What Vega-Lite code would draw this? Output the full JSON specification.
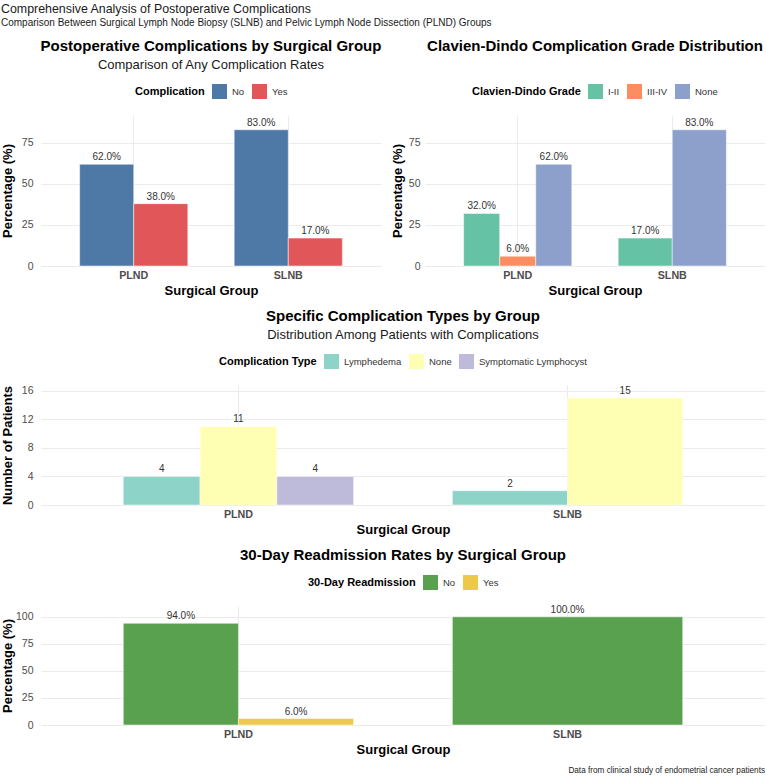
{
  "$schema": "https://vega.github.io/schema/vega-lite/v6.json",
  "background": "white",
  "padding": {"left": 0, "top": 2, "right": 0, "bottom": 0},
  "title": {
    "text": "Comprehensive Analysis of Postoperative Complications",
    "subtitle": "Comparison Between Surgical Lymph Node Biopsy (SLNB) and Pelvic Lymph Node Dissection (PLND) Groups",
    "anchor": "start",
    "frame": "bounds",
    "fontSize": 12.4,
    "fontWeight": "normal",
    "color": "#1a1a1a",
    "subtitleFontSize": 10,
    "subtitleColor": "#1a1a1a",
    "subtitlePadding": 3,
    "offset": 11
  },
  "resolve": {"scale": {"color": "independent"}, "legend": {"color": "independent"}},
  "vconcat": [
    {
      "title": {
        "text": "Data from clinical study of endometrial cancer patients",
        "orient": "bottom",
        "anchor": "end",
        "fontSize": 8.2,
        "fontWeight": "normal",
        "color": "#1a1a1a",
        "offset": 11
      },
      "spacing": 11,
      "resolve": {"scale": {"color": "independent"}, "legend": {"color": "independent"}},
      "vconcat": [
        {
          "spacing": 9,
          "resolve": {"scale": {"color": "independent"}, "legend": {"color": "independent"}},
          "hconcat": [
            {
              "title": {"text": "Postoperative Complications by Surgical Group", "subtitle": "Comparison of Any Complication Rates"},
              "width": 340,
              "height": 151,
              "data": {"values": [
                {"group": "PLND", "complication": "No", "pct": 62},
                {"group": "PLND", "complication": "Yes", "pct": 38},
                {"group": "SLNB", "complication": "No", "pct": 83},
                {"group": "SLNB", "complication": "Yes", "pct": 17}
              ]},
              "transform": [{"calculate": "format(datum.pct, '.1f') + '%'", "as": "label"}],
              "encoding": {
                "x": {"field": "group", "type": "nominal", "title": "Surgical Group",
                      "scale": {"domain": ["PLND", "SLNB"], "paddingInner": 0.3, "paddingOuter": 0.25},
                      "axis": {"grid": true, "bandPosition": 0.5}},
                "xOffset": {"field": "complication", "type": "nominal", "scale": {"type": "band", "paddingInner": 0, "paddingOuter": 0}},
                "y": {"field": "pct", "type": "quantitative", "title": "Percentage (%)",
                      "scale": {"domain": [0, 92], "nice": false},
                      "axis": {"values": [0, 25, 50, 75]}},
                "color": {"field": "complication", "type": "nominal", "title": "Complication",
                   "scale": {"domain": ["No", "Yes"], "range": ["#4E79A7", "#E15759"]}}
              },
              "layer": [
                {"mark": {"type": "bar", "stroke": "white", "strokeWidth": 0.5}},
                {"mark": {"type": "text", "baseline": "bottom", "dy": -2},
                 "encoding": {"text": {"field": "label"}, "color": {"value": "#333333"}}}
              ]
            },
            {
              "title": {"text": "Clavien-Dindo Complication Grade Distribution", "subtitle": " "},
              "width": 340,
              "height": 151,
              "data": {"values": [
                {"group": "PLND", "grade": "I-II", "pct": 32},
                {"group": "PLND", "grade": "III-IV", "pct": 6},
                {"group": "PLND", "grade": "None", "pct": 62},
                {"group": "SLNB", "grade": "I-II", "pct": 17},
                {"group": "SLNB", "grade": "None", "pct": 83}
              ]},
              "transform": [{"calculate": "format(datum.pct, '.1f') + '%'", "as": "label"}],
              "encoding": {
                "x": {"field": "group", "type": "nominal", "title": "Surgical Group",
                      "scale": {"domain": ["PLND", "SLNB"], "paddingInner": 0.3, "paddingOuter": 0.25},
                      "axis": {"grid": true, "bandPosition": 0.5}},
                "xOffset": {"field": "grade", "type": "nominal", "scale": {"type": "band", "paddingInner": 0, "paddingOuter": 0}},
                "y": {"field": "pct", "type": "quantitative", "title": "Percentage (%)",
                      "scale": {"domain": [0, 92], "nice": false},
                      "axis": {"values": [0, 25, 50, 75], "labelPadding": 5, "minExtent": 17, "maxExtent": 17, "titlePadding": 4}},
                "color": {"field": "grade", "type": "nominal", "title": "Clavien-Dindo Grade",
                   "scale": {"domain": ["I-II", "III-IV", "None"], "range": ["#66C2A5", "#FC8D62", "#8DA0CB"]}}
              },
              "layer": [
                {"transform": [{"filter": "datum.group === 'PLND'"}],
                 "layer": [
                   {"mark": {"type": "bar", "stroke": "white", "strokeWidth": 0.5}},
                   {"mark": {"type": "text", "baseline": "bottom", "dy": -2},
                    "encoding": {"text": {"field": "label"}, "color": {"value": "#333333"}}}
                 ]},
                {"transform": [{"filter": "datum.group === 'SLNB'"}],
                 "layer": [
                   {"mark": {"type": "bar", "stroke": "white", "strokeWidth": 0.5}},
                   {"mark": {"type": "text", "baseline": "bottom", "dy": -2},
                    "encoding": {"text": {"field": "label"}, "color": {"value": "#333333"}}}
                 ]}
              ],
              "resolve": {"scale": {"xOffset": "independent"}}
            }
          ]
        },
        {
          "title": {"text": "Specific Complication Types by Group", "subtitle": "Distribution Among Patients with Complications"},
          "width": 724,
          "height": 120,
          "data": {"values": [
            {"group": "PLND", "type": "Lymphedema", "n": 4},
            {"group": "PLND", "type": "None", "n": 11},
            {"group": "PLND", "type": "Symptomatic Lymphocyst", "n": 4},
            {"group": "SLNB", "type": "Lymphedema", "n": 2},
            {"group": "SLNB", "type": "None", "n": 15}
          ]},
          "encoding": {
            "x": {"field": "group", "type": "nominal", "title": "Surgical Group",
                  "scale": {"domain": ["PLND", "SLNB"], "paddingInner": 0.3, "paddingOuter": 0.25},
                  "axis": {"grid": true, "bandPosition": 0.5}},
            "xOffset": {"field": "type", "type": "nominal", "scale": {"type": "band", "paddingInner": 0, "paddingOuter": 0}},
            "y": {"field": "n", "type": "quantitative", "title": "Number of Patients",
                  "scale": {"domain": [0, 16.8], "nice": false},
                  "axis": {"values": [0, 4, 8, 12, 16]}},
            "color": {"field": "type", "type": "nominal", "title": "Complication Type",
               "scale": {"domain": ["Lymphedema", "None", "Symptomatic Lymphocyst"], "range": ["#8DD3C7", "#FFFFB3", "#BEBADA"]}}
          },
          "layer": [
            {"transform": [{"filter": "datum.group === 'PLND'"}],
             "layer": [
               {"mark": {"type": "bar", "stroke": "white", "strokeWidth": 0.5}},
               {"mark": {"type": "text", "baseline": "bottom", "dy": -2},
                "encoding": {"text": {"field": "n"}, "color": {"value": "#333333"}}}
             ]},
            {"transform": [{"filter": "datum.group === 'SLNB'"}],
             "layer": [
               {"mark": {"type": "bar", "stroke": "white", "strokeWidth": 0.5}},
               {"mark": {"type": "text", "baseline": "bottom", "dy": -2},
                "encoding": {"text": {"field": "n"}, "color": {"value": "#333333"}}}
             ]}
          ],
          "resolve": {"scale": {"xOffset": "independent"}}
        },
        {
          "title": {"text": "30-Day Readmission Rates by Surgical Group", "offset": 12},
          "width": 724,
          "height": 119,
          "data": {"values": [
            {"group": "PLND", "readmission": "No", "pct": 94},
            {"group": "PLND", "readmission": "Yes", "pct": 6},
            {"group": "SLNB", "readmission": "No", "pct": 100}
          ]},
          "transform": [{"calculate": "format(datum.pct, '.1f') + '%'", "as": "label"}],
          "encoding": {
            "x": {"field": "group", "type": "nominal", "title": "Surgical Group",
                  "scale": {"domain": ["PLND", "SLNB"], "paddingInner": 0.3, "paddingOuter": 0.25},
                  "axis": {"grid": true, "bandPosition": 0.5}},
            "xOffset": {"field": "readmission", "type": "nominal", "scale": {"type": "band", "paddingInner": 0, "paddingOuter": 0}},
            "y": {"field": "pct", "type": "quantitative", "title": "Percentage (%)",
                  "scale": {"domain": [0, 110], "nice": false},
                  "axis": {"values": [0, 25, 50, 75, 100]}},
            "color": {"field": "readmission", "type": "nominal", "title": "30-Day Readmission",
               "scale": {"domain": ["No", "Yes"], "range": ["#59A14F", "#EDC948"]},
               "legend": {"offset": 16}}
          },
          "layer": [
            {"transform": [{"filter": "datum.group === 'PLND'"}],
             "layer": [
               {"mark": {"type": "bar", "stroke": "white", "strokeWidth": 0.5}},
               {"mark": {"type": "text", "baseline": "bottom", "dy": -2},
                "encoding": {"text": {"field": "label"}, "color": {"value": "#333333"}}}
             ]},
            {"transform": [{"filter": "datum.group === 'SLNB'"}],
             "layer": [
               {"mark": {"type": "bar", "stroke": "white", "strokeWidth": 0.5}},
               {"mark": {"type": "text", "baseline": "bottom", "dy": -2},
                "encoding": {"text": {"field": "label"}, "color": {"value": "#333333"}}}
             ]}
          ],
          "resolve": {"scale": {"xOffset": "independent"}}
        }
      ]
    }
  ],
  "config": {
    "font": "Liberation Sans",
    "view": {"stroke": null},
    "axis": {
      "domain": false,
      "ticks": false,
      "gridColor": "#ebebeb",
      "gridWidth": 1,
      "labelColor": "#4d4d4d",
      "titleFontWeight": "bold",
      "titleFontSize": 13,
      "titleColor": "#000000"
    },
    "axisX": {"labelAngle": 0, "labelFontWeight": "bold", "labelFontSize": 10.7, "labelPadding": 4, "titlePadding": 4.5},
    "axisY": {"labelFontSize": 10.5, "labelPadding": 8, "titlePadding": 7, "minExtent": 20, "maxExtent": 20},
    "title": {
      "fontSize": 15,
      "fontWeight": "bold",
      "anchor": "middle",
      "color": "#000000",
      "subtitleFontSize": 13,
      "subtitleColor": "#1a1a1a",
      "subtitlePadding": 5,
      "offset": 12
    },
    "legend": {
      "orient": "top",
      "direction": "horizontal",
      "titleOrient": "left",
      "titleFontSize": 11,
      "titleFontWeight": "bold",
      "titleColor": "#000000",
      "titleLimit": 300,
      "labelFontSize": 9.5,
      "labelColor": "#333333",
      "labelLimit": 300,
      "symbolType": "square",
      "symbolSize": 225,
      "symbolStrokeWidth": 0,
      "symbolOpacity": 1,
      "labelOffset": 5,
      "columnPadding": 7,
      "titlePadding": 7,
      "offset": 16,
      "layout": {"top": {"anchor": "middle"}}
    },
    "text": {"fontSize": 10, "color": "#333333"}
  }
}
